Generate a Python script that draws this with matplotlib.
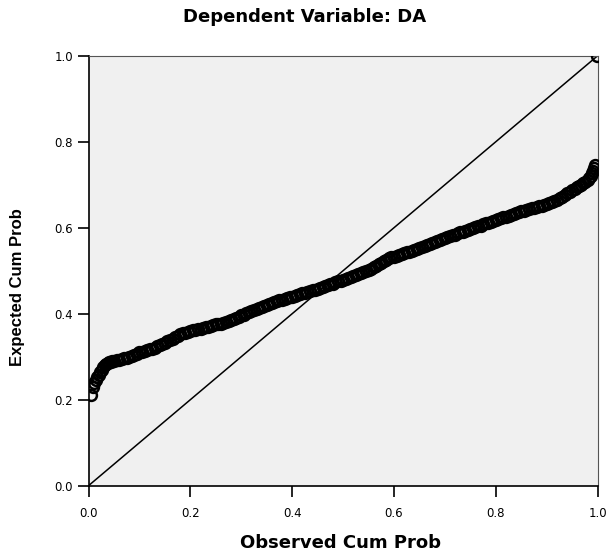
import matplotlib
matplotlib.use("Agg")
import matplotlib.pyplot as plt

# observed vs expected cumulative probability
observed = [0.004, 0.008, 0.011, 0.014, 0.017, 0.020, 0.023, 0.026, 0.029, 0.032,
            0.035, 0.038, 0.041, 0.044, 0.047,
            0.050, 0.055, 0.060, 0.065, 0.070, 0.075, 0.080, 0.085, 0.090, 0.095,
            0.100, 0.105, 0.110, 0.115, 0.120, 0.125, 0.130, 0.135, 0.140, 0.145,
            0.150, 0.155, 0.160, 0.165, 0.170, 0.175, 0.180, 0.185, 0.190, 0.195,
            0.200, 0.205, 0.210, 0.215, 0.220, 0.225, 0.230, 0.235, 0.240, 0.245,
            0.250, 0.255, 0.260, 0.265, 0.270, 0.275, 0.280, 0.285, 0.290, 0.295,
            0.300, 0.305, 0.310, 0.315, 0.320, 0.325, 0.330, 0.335, 0.340, 0.345,
            0.350, 0.355, 0.360, 0.365, 0.370, 0.375, 0.380, 0.385, 0.390, 0.395,
            0.400, 0.405, 0.410, 0.415, 0.420, 0.425, 0.430, 0.435, 0.440, 0.445,
            0.450, 0.455, 0.460, 0.465, 0.470, 0.475, 0.480, 0.485, 0.490, 0.495,
            0.500, 0.505, 0.510, 0.515, 0.520, 0.525, 0.530, 0.535, 0.540, 0.545,
            0.550, 0.555, 0.560, 0.565, 0.570, 0.575, 0.580, 0.585, 0.590, 0.595,
            0.600, 0.605, 0.610, 0.615, 0.620, 0.625, 0.630, 0.635, 0.640, 0.645,
            0.650, 0.655, 0.660, 0.665, 0.670, 0.675, 0.680, 0.685, 0.690, 0.695,
            0.700, 0.705, 0.710, 0.715, 0.720, 0.725, 0.730, 0.735, 0.740, 0.745,
            0.750, 0.755, 0.760, 0.765, 0.770, 0.775, 0.780, 0.785, 0.790, 0.795,
            0.800, 0.805, 0.810, 0.815, 0.820, 0.825, 0.830, 0.835, 0.840, 0.845,
            0.850, 0.855, 0.860, 0.865, 0.870, 0.875, 0.880, 0.885, 0.890, 0.895,
            0.900, 0.905, 0.910, 0.915, 0.920, 0.925, 0.930, 0.935, 0.940, 0.945,
            0.950,
            0.955, 0.960, 0.964, 0.968, 0.972, 0.976, 0.980, 0.983, 0.986, 0.989,
            0.991, 0.993, 0.995, 0.999]
expected = [0.211, 0.230, 0.238, 0.245, 0.252, 0.258, 0.264, 0.270, 0.276, 0.280,
            0.283, 0.285, 0.287, 0.288, 0.289,
            0.290, 0.292, 0.293, 0.295, 0.296, 0.298, 0.300, 0.302, 0.305, 0.307,
            0.310, 0.312, 0.314, 0.316, 0.317, 0.319, 0.321, 0.324, 0.327, 0.330,
            0.333, 0.336, 0.339, 0.342, 0.345, 0.349, 0.352, 0.355, 0.356, 0.358,
            0.359, 0.361, 0.362, 0.364, 0.365, 0.367, 0.369, 0.370, 0.372, 0.373,
            0.375, 0.376, 0.377, 0.379, 0.380, 0.383, 0.386, 0.388, 0.391, 0.393,
            0.396, 0.398, 0.401, 0.403, 0.406, 0.409, 0.411, 0.414, 0.416, 0.419,
            0.421, 0.423, 0.425, 0.427, 0.429, 0.431, 0.433, 0.434, 0.436, 0.438,
            0.440, 0.442, 0.443, 0.445, 0.447, 0.449, 0.450, 0.452, 0.454, 0.455,
            0.457, 0.459, 0.461, 0.464, 0.466, 0.468, 0.470, 0.473, 0.475, 0.477,
            0.479, 0.481, 0.483, 0.486, 0.488, 0.490, 0.492, 0.494, 0.497, 0.499,
            0.501, 0.505, 0.508, 0.511, 0.515, 0.518, 0.522, 0.525, 0.529, 0.531,
            0.533, 0.535, 0.537, 0.539, 0.541, 0.543, 0.544, 0.546, 0.548, 0.550,
            0.552, 0.554, 0.557, 0.559, 0.562, 0.564, 0.566, 0.569, 0.571, 0.574,
            0.576, 0.578, 0.580, 0.582, 0.584, 0.587, 0.589, 0.591, 0.593, 0.595,
            0.597, 0.599, 0.601, 0.603, 0.605, 0.608, 0.610, 0.612, 0.614, 0.616,
            0.618, 0.620, 0.622, 0.624, 0.626, 0.628, 0.630, 0.632, 0.634, 0.636,
            0.638, 0.640, 0.641, 0.643, 0.645, 0.646, 0.648, 0.650, 0.651, 0.653,
            0.655, 0.657, 0.660, 0.662, 0.664, 0.668, 0.672, 0.676, 0.680, 0.684,
            0.688,
            0.691, 0.694, 0.697, 0.700, 0.703, 0.706, 0.711, 0.716, 0.721, 0.727,
            0.733, 0.740, 0.746, 0.999]
ticks = [0.0, 0.2, 0.4, 0.6, 0.8, 1.0]
tick_labels = ["0.0", "0.2", "0.4", "0.6", "0.8", "1.0"]

plt.rcParams["font.family"] = ["DejaVu Sans"]

fig = plt.figure(figsize=(6.14, 5.54), dpi=100)
ax = fig.add_axes([88.5 / 614, (554 - 485.7) / 554, 509.2 / 614, 430 / 554])
ax.set_facecolor("#f0f0f0")

# reference line
ax.plot([0, 1], [0, 1], color="black", lw=1.1, zorder=2)
ax.plot(observed, expected, linestyle="none", marker="o", markersize=7.8,
        markerfacecolor="none", markeredgecolor="black", markeredgewidth=1.8,
        zorder=3)

ax.set_xlim(0, 1)
ax.set_ylim(0, 1)
ax.set_xticks(ticks)
ax.set_xticklabels(tick_labels)
ax.set_yticks(ticks)
ax.set_yticklabels(tick_labels)
ax.tick_params(axis="both", direction="out", length=8, width=1.2, labelsize=8.5,
               colors="black")
ax.tick_params(axis="x", pad=7)
ax.tick_params(axis="y", pad=3)
for s in ["left", "bottom"]:
    ax.spines[s].set_linewidth(1.2)
for s in ["top", "right"]:
    ax.spines[s].set_linewidth(0.8)
    ax.spines[s].set_color("#555555")

fig.text(305 / 614, 1 - 17 / 554, "Dependent Variable: DA", ha="center",
         va="center", fontsize=13, fontweight="bold")
fig.text(341 / 614, 1 - 543 / 554, "Observed Cum Prob", ha="center",
         va="center", fontsize=13, fontweight="bold")
fig.text(18 / 614, 1 - 287 / 554, "Expected Cum Prob", ha="center",
         va="center", rotation=90, fontsize=12,
         family=["Liberation Sans Narrow", "Liberation Sans"], fontweight="bold")

fig.savefig("out.png", dpi=100)
